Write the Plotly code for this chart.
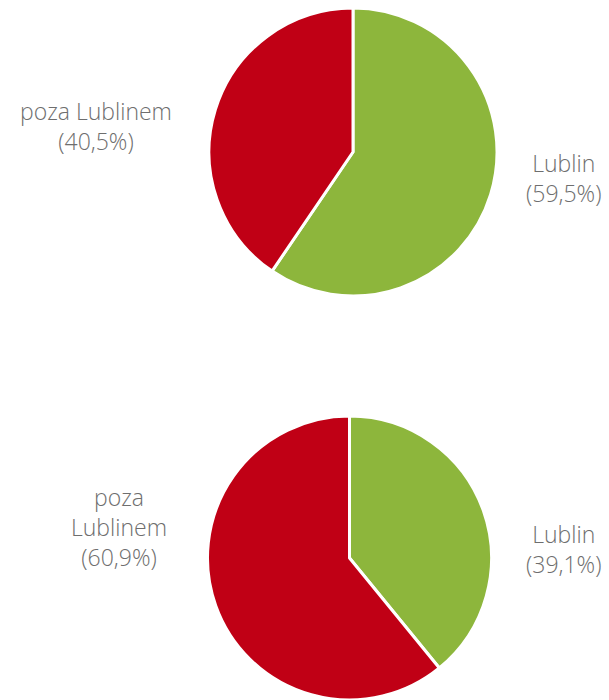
import plotly.graph_objects as go

W, H = 609, 700

categories = ["Lublin", "poza Lublinem"]
values_top = [59.5, 40.5]
values_bottom = [39.1, 60.9]
label_names_top = ["Lublin", "poza Lublinem"]
label_names_bottom = ["Lublin", "poza<br>Lublinem"]
colors = ["#8DB63C", "#C00015"]

def px_dom(x0, x1, y0, y1):
    return dict(x=[x0 / W, x1 / W], y=[max(0, 1 - y1 / H), min(1, 1 - y0 / H)])

fig = go.Figure()
fig.add_trace(go.Pie(
    labels=categories, values=values_top, sort=False, direction="clockwise",
    rotation=0, marker=dict(colors=colors, line=dict(color="white", width=3)),
    textinfo="none", hoverinfo="label+percent", showlegend=False,
    domain=px_dom(209, 497, 8, 296),
))
fig.add_trace(go.Pie(
    labels=categories, values=values_bottom, sort=False, direction="clockwise",
    rotation=0, marker=dict(colors=colors, line=dict(color="white", width=3)),
    textinfo="none", hoverinfo="label+percent", showlegend=False,
    domain=px_dom(206, 493, 416, 700),
))

def fmt(v):
    return f"({v:.1f}%)".replace(".", ",")

font = dict(family="Open Sans", size=23, color="#6e6e6e", weight=300)
ann_pos_top = [(563, 178), (96, 126)]
ann_pos_bottom = [(563, 549), (119, 527)]
for names, vals, pos in [(label_names_top, values_top, ann_pos_top),
                         (label_names_bottom, values_bottom, ann_pos_bottom)]:
    for name, v, (x, y) in zip(names, vals, pos):
        fig.add_annotation(
            x=x / W, y=1 - y / H, xref="paper", yref="paper",
            text=f"{name}<br>{fmt(v)}", showarrow=False, align="center",
            xanchor="center", yanchor="middle", font=font,
        )

fig.update_layout(
    width=W, height=H, margin=dict(l=0, r=0, t=0, b=0),
    paper_bgcolor="white", plot_bgcolor="white",
)
fig.write_html("out.html", config={"displayModeBar": False},
               post_script="document.body.style.margin='0';")
